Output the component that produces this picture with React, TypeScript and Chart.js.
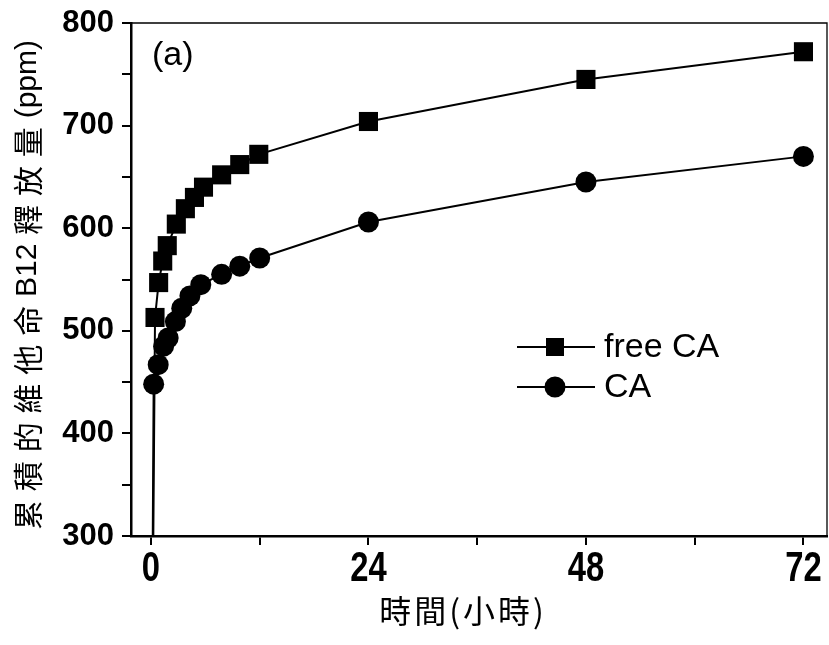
import React, { useEffect, useRef } from 'react';
import { Chart, registerables } from 'chart.js';

Chart.register(...registerables);

// Time (hours) for each series
const hoursFree = [0, 0.45, 0.85, 1.3, 1.8, 2.8, 3.8, 4.8, 5.8, 7.8, 9.8, 11.9, 24, 48, 72];
const hoursCA = [0, 0.3, 0.8, 1.4, 1.9, 2.7, 3.4, 4.3, 5.5, 7.8, 9.8, 12, 24, 48, 72];
// Cumulative vitamin B12 release (ppm)
const freeCA = [0, 513, 547, 568, 583, 604, 619, 630, 640, 652, 662, 672, 704, 745, 772];
const CA = [0, 448, 467, 485, 493, 509, 522, 534, 545, 555, 563, 571, 606, 645, 670];

const xTicks = [0, 12, 24, 36, 48, 60, 72];
const xTickLabels = ['0', '24', '48', '72'];
const yTicks = [300, 350, 400, 450, 500, 550, 600, 650, 700, 750, 800];

const seriesNames = ['free CA', 'CA'];
const yTitleParts = ['累', '積', '的', '維', '他', '命', 'B12', '釋', '放', '量', '(ppm)'];
const xTitle = '時間(小時)';
const panelLabel = '(a)';

const CJK = "'Noto Sans CJK TC', 'Noto Sans CJK SC', sans-serif";
const SANS = "'Liberation Sans', Arial, sans-serif";

const decorPlugin = {
  id: 'decor',
  afterDraw(chart: any) {
    const { ctx, chartArea } = chart;
    const { left, right, top, bottom } = chartArea;
    ctx.save();
    // top and right frame
    ctx.strokeStyle = '#000';
    ctx.lineWidth = 1.3;
    ctx.beginPath();
    ctx.moveTo(left, top);
    ctx.lineTo(right, top);
    ctx.lineTo(right, bottom);
    ctx.stroke();

    // x tick labels (condensed bold)
    const xs = chart.scales.x;
    ctx.fillStyle = '#000';
    ctx.font = `bold 42px ${SANS}`;
    ctx.textAlign = 'center';
    ctx.textBaseline = 'alphabetic';
    xTickLabels.forEach((lab) => {
      const px = xs.getPixelForValue(Number(lab));
      ctx.save();
      ctx.translate(px, 581);
      ctx.scale(0.78, 1);
      ctx.fillText(lab, 0, 0);
      ctx.restore();
    });

    // panel label
    ctx.font = `34px ${SANS}`;
    ctx.textAlign = 'left';
    ctx.textBaseline = 'middle';
    ctx.fillText(panelLabel, 152, 56);

    // legend
    const lx0 = 517, lx1 = 595, mx = 555, tx = 604;
    const rows = [347, 387];
    rows.forEach((y, i) => {
      ctx.strokeStyle = '#000';
      ctx.lineWidth = 2;
      ctx.beginPath();
      ctx.moveTo(lx0, y);
      ctx.lineTo(lx1, y);
      ctx.stroke();
      ctx.fillStyle = '#000';
      if (i === 0) {
        ctx.fillRect(mx - 9, y - 9, 18, 18);
      } else {
        ctx.beginPath();
        ctx.arc(mx, y, 10.5, 0, Math.PI * 2);
        ctx.fill();
      }
      ctx.font = `34px ${SANS}`;
      ctx.textAlign = 'left';
      ctx.textBaseline = 'middle';
      ctx.fillText(seriesNames[i], tx, y + 1);
    });

    // x title
    ctx.font = `32px ${CJK}`;
    ctx.textAlign = 'center';
    ctx.textBaseline = 'middle';
    (ctx as any).letterSpacing = '3px';
    ctx.fillText(xTitle, 463, 611);
    (ctx as any).letterSpacing = '0px';

    // y title (rotated), parts spaced across target length
    const fontFor = (s: string) => (/^[\x00-\x7f]+$/.test(s) ? `30px ${SANS}` : `30px ${CJK}`);
    const widths = yTitleParts.map((s) => {
      ctx.font = fontFor(s);
      return ctx.measureText(s).width;
    });
    const total = 490;
    const sum = widths.reduce((a, b) => a + b, 0);
    const gap = (total - sum) / (yTitleParts.length - 1);
    ctx.translate(28, 285);
    ctx.rotate(-Math.PI / 2);
    let pos = -total / 2;
    ctx.textAlign = 'left';
    ctx.textBaseline = 'middle';
    yTitleParts.forEach((s, i) => {
      ctx.font = fontFor(s);
      ctx.fillText(s, pos, 0);
      pos += widths[i] + gap;
    });
    ctx.restore();
  },
};

export default function App() {
  const ref = useRef<HTMLCanvasElement | null>(null);

  useEffect(() => {
    document.body.style.margin = '0';
    const canvas = ref.current;
    if (!canvas) return;
    const chart = new Chart(canvas, {
      type: 'line',
      data: {
        datasets: [
          {
            label: seriesNames[0],
            data: hoursFree.map((h, i) => ({ x: h, y: freeCA[i] })),
            borderColor: '#000',
            backgroundColor: '#000',
            borderWidth: 2,
            pointStyle: 'rect',
            pointRadius: (c: any) => (c.dataIndex === 0 ? 0 : 13.5),
            pointBorderWidth: 0,
            tension: 0,
          },
          {
            label: seriesNames[1],
            data: hoursCA.map((h, i) => ({ x: h, y: CA[i] })),
            borderColor: '#000',
            backgroundColor: '#000',
            borderWidth: 2,
            pointStyle: 'circle',
            pointRadius: (c: any) => (c.dataIndex === 0 ? 0 : 10.5),
            pointBorderWidth: 0,
            tension: 0,
          },
        ],
      },
      options: {
        responsive: false,
        animation: false,
        layout: { autoPadding: false, padding: { top: 23, right: 2, left: 0, bottom: 0 } },
        plugins: {
          legend: { display: false },
          tooltip: { enabled: false },
          title: { display: false },
        },
        scales: {
          x: {
            type: 'linear',
            min: -2.2,
            max: 74.6,
            afterBuildTicks: (s: any) => {
              s.ticks = xTicks.map((v) => ({ value: v }));
            },
            afterFit: (s: any) => {
              s.height = 109;
              s.paddingLeft = 0;
              s.paddingRight = 0;
            },
            ticks: {
              autoSkip: false,
              maxRotation: 0,
              padding: 3,
              color: '#000',
              font: { family: SANS, weight: 'bold', size: 12 },
              callback: () => '',
            },
            grid: { drawOnChartArea: false, drawTicks: true, tickLength: 9, color: '#000', lineWidth: 2 },
            border: { display: true, color: '#000', width: 2.5 },
          },
          y: {
            type: 'linear',
            min: 300,
            max: 800,
            afterBuildTicks: (s: any) => {
              s.ticks = yTicks.map((v) => ({ value: v }));
            },
            afterFit: (s: any) => {
              s.width = 131;
              s.paddingTop = 0;
              s.paddingBottom = 0;
            },
            ticks: {
              autoSkip: false,
              padding: 8,
              color: '#000',
              font: { family: SANS, weight: 'bold', size: 31 },
              callback: (v: any) => (Number(v) % 100 === 0 ? String(v) : ''),
            },
            grid: { drawOnChartArea: false, drawTicks: true, tickLength: 9, color: '#000', lineWidth: 2 },
            border: { display: true, color: '#000', width: 2.5 },
          },
        },
      },
      plugins: [decorPlugin],
    } as any);
    return () => chart.destroy();
  }, []);

  return (
    <div style={{ width: 829, height: 645, background: '#fff' }}>
      <canvas ref={ref} width={829} height={645} style={{ display: 'block' }} />
    </div>
  );
}
